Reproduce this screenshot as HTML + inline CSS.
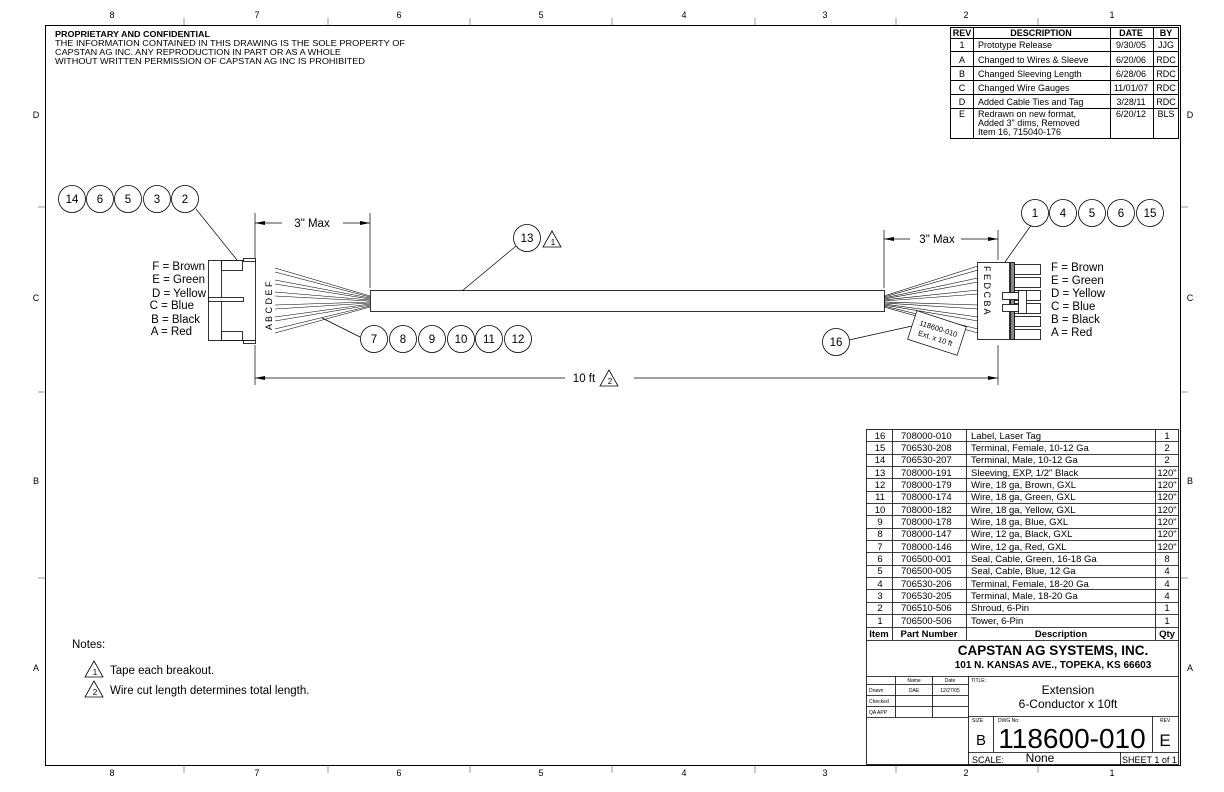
<!DOCTYPE html>
<html><head><meta charset="utf-8"><style>
html,body{margin:0;padding:0;background:#fff;}
svg{display:block;font-family:"Liberation Sans",sans-serif;}
text{fill:#000;}
</style></head><body>
<svg width="1224" height="792" viewBox="0 0 1224 792" xmlns="http://www.w3.org/2000/svg">
<rect width="1224" height="792" fill="#fff"/>
<g stroke="#000" fill="none" stroke-width="1">
<rect x="45.5" y="25.5" width="1135" height="740"/>
</g>
<g stroke="#999" stroke-width="1">
<line x1="184" y1="18" x2="184" y2="25"/><line x1="328" y1="18" x2="328" y2="25"/><line x1="470" y1="18" x2="470" y2="25"/><line x1="612" y1="18" x2="612" y2="25"/><line x1="755" y1="18" x2="755" y2="25"/><line x1="896" y1="18" x2="896" y2="25"/><line x1="1038" y1="18" x2="1038" y2="25"/>
<line x1="184" y1="766" x2="184" y2="773"/><line x1="328" y1="766" x2="328" y2="773"/><line x1="470" y1="766" x2="470" y2="773"/><line x1="612" y1="766" x2="612" y2="773"/><line x1="755" y1="766" x2="755" y2="773"/><line x1="896" y1="766" x2="896" y2="773"/><line x1="1038" y1="766" x2="1038" y2="773"/>
<line x1="38" y1="207" x2="45" y2="207"/><line x1="38" y1="392" x2="45" y2="392"/><line x1="38" y1="578" x2="45" y2="578"/>
<line x1="1181" y1="207" x2="1188" y2="207"/><line x1="1181" y1="392" x2="1188" y2="392"/><line x1="1181" y1="578" x2="1188" y2="578"/>
</g>
<g font-size="9" text-anchor="middle">
<text x="112" y="18">8</text><text x="257" y="18">7</text><text x="399" y="18">6</text><text x="541" y="18">5</text><text x="684" y="18">4</text><text x="825" y="18">3</text><text x="966" y="18">2</text><text x="1112" y="18">1</text>
<text x="112" y="776">8</text><text x="257" y="776">7</text><text x="399" y="776">6</text><text x="541" y="776">5</text><text x="684" y="776">4</text><text x="825" y="776">3</text><text x="966" y="776">2</text><text x="1112" y="776">1</text>
<text x="36" y="118">D</text><text x="36" y="301">C</text><text x="36" y="484">B</text><text x="36" y="671">A</text>
<text x="1190" y="118">D</text><text x="1190" y="301">C</text><text x="1190" y="484">B</text><text x="1190" y="671">A</text>
</g>
<g font-size="8">
<text x="55" y="37" font-weight="bold" textLength="155" lengthAdjust="spacingAndGlyphs">PROPRIETARY AND CONFIDENTIAL</text>
<text x="55" y="46" textLength="350" lengthAdjust="spacingAndGlyphs">THE INFORMATION CONTAINED IN THIS DRAWING IS THE SOLE PROPERTY OF</text>
<text x="55" y="55" textLength="286" lengthAdjust="spacingAndGlyphs">CAPSTAN AG INC. ANY REPRODUCTION IN PART OR AS A WHOLE</text>
<text x="55" y="64" textLength="310" lengthAdjust="spacingAndGlyphs">WITHOUT WRITTEN PERMISSION OF CAPSTAN AG INC IS PROHIBITED</text>
</g>
<!-- Rev table -->
<g stroke="#000" fill="none" stroke-width="1">
<rect x="950.5" y="27.5" width="228" height="111"/>
<line x1="973.5" y1="27" x2="973.5" y2="139"/><line x1="1110.5" y1="27" x2="1110.5" y2="139"/><line x1="1153.5" y1="27" x2="1153.5" y2="139"/>
<line x1="950" y1="38.5" x2="1179" y2="38.5"/><line x1="950" y1="51.5" x2="1179" y2="51.5"/><line x1="950" y1="66.5" x2="1179" y2="66.5"/><line x1="950" y1="80.5" x2="1179" y2="80.5"/><line x1="950" y1="94.5" x2="1179" y2="94.5"/><line x1="950" y1="108.5" x2="1179" y2="108.5"/>
</g>
<g font-size="9">
<g font-weight="bold" text-anchor="middle"><text x="962" y="36">REV</text><text x="1041" y="36">DESCRIPTION</text><text x="1131" y="36">DATE</text><text x="1166" y="36">BY</text></g>
<g text-anchor="middle"><text x="962" y="48">1</text><text x="962" y="63">A</text><text x="962" y="77">B</text><text x="962" y="91">C</text><text x="962" y="105">D</text><text x="962" y="117">E</text></g>
<text x="978" y="48">Prototype Release</text><text x="978" y="63">Changed to Wires &amp; Sleeve</text><text x="978" y="77">Changed Sleeving Length</text><text x="978" y="91">Changed Wire Gauges</text><text x="978" y="105">Added Cable Ties and Tag</text>
<text x="978" y="117">Redrawn on new format,</text><text x="978" y="126">Added 3" dims, Removed</text><text x="978" y="135">Item 16, 715040-176</text>
<g text-anchor="middle"><text x="1131" y="48">9/30/05</text><text x="1131" y="63">6/20/06</text><text x="1131" y="77">6/28/06</text><text x="1131" y="91">11/01/07</text><text x="1131" y="105">3/28/11</text><text x="1131" y="117">6/20/12</text>
<text x="1166" y="48">JJG</text><text x="1166" y="63">RDC</text><text x="1166" y="77">RDC</text><text x="1166" y="91">RDC</text><text x="1166" y="105">RDC</text><text x="1166" y="117">BLS</text></g>
</g>
<!-- Left connector -->
<g stroke="#000" fill="#fff" stroke-width="0.8">
<rect x="208.5" y="260.5" width="47" height="80"/>
<line x1="221.5" y1="260" x2="221.5" y2="340"/>
<rect x="221.5" y="260.5" width="21" height="10"/><rect x="221.5" y="331.5" width="21" height="9"/>
<rect x="208.5" y="297.5" width="35" height="4"/>
<rect x="243.5" y="258.5" width="12" height="3"/><rect x="243.5" y="340.5" width="12" height="3"/>
</g>
<g font-size="9" fill="#000"><text transform="translate(272,330) rotate(-90)">A B C D E F</text></g>
<g stroke="#000" stroke-width="0.6" fill="none">
<line x1="275" y1="268" x2="370" y2="296"/><line x1="275" y1="272" x2="370" y2="297"/>
<line x1="275" y1="280" x2="370" y2="298"/><line x1="275" y1="284" x2="370" y2="299"/>
<line x1="275" y1="292" x2="370" y2="300"/><line x1="275" y1="296" x2="370" y2="301"/>
<line x1="275" y1="305" x2="370" y2="302"/><line x1="275" y1="309" x2="370" y2="303"/>
<line x1="275" y1="317" x2="370" y2="304"/><line x1="275" y1="321" x2="370" y2="305"/>
<line x1="275" y1="329" x2="370" y2="306"/><line x1="275" y1="333" x2="370" y2="307"/>
</g>
<g font-size="11.5" text-anchor="end">
<text x="205" y="270">F = Brown</text><text x="205" y="283">E = Green</text><text x="206" y="297">D = Yellow</text><text x="194" y="309">C = Blue</text><text x="200" y="323">B = Black</text><text x="192" y="335">A = Red</text>
</g>
<!-- Sleeve -->
<rect x="370.5" y="290.5" width="514" height="21" fill="#fff" stroke="#000" stroke-width="0.8"/>
<!-- Right connector -->
<g stroke="#000" stroke-width="0.6" fill="none">
<line x1="884" y1="296" x2="978" y2="266"/><line x1="884" y1="297" x2="978" y2="270"/>
<line x1="884" y1="298" x2="978" y2="278"/><line x1="884" y1="299" x2="978" y2="282"/>
<line x1="884" y1="300" x2="978" y2="290"/><line x1="884" y1="301" x2="978" y2="294"/>
<line x1="884" y1="302" x2="978" y2="305"/><line x1="884" y1="303" x2="978" y2="309"/>
<line x1="884" y1="304" x2="978" y2="317"/><line x1="884" y1="305" x2="978" y2="321"/>
<line x1="884" y1="306" x2="978" y2="329"/><line x1="884" y1="307" x2="978" y2="333"/>
</g>
<g stroke="#000" fill="#fff" stroke-width="0.8">
<rect x="977.5" y="262.5" width="32" height="77"/>
<rect x="1010.5" y="262.5" width="4" height="77" fill="#888"/>
<rect x="1014.5" y="264.5" width="26" height="10"/><rect x="1014.5" y="277.5" width="26" height="10"/><rect x="1014.5" y="290.5" width="26" height="10"/><rect x="1014.5" y="303.5" width="26" height="10"/><rect x="1014.5" y="316.5" width="26" height="10"/><rect x="1014.5" y="329.5" width="26" height="10"/>
<rect x="1002.5" y="292.5" width="22" height="7"/><rect x="1002.5" y="304.5" width="22" height="7"/>
<rect x="1018.5" y="290.5" width="8" height="23"/>
</g>
<g font-size="9"><text transform="translate(984,266) rotate(90)">F E D C B A</text></g>
<g font-size="11.5">
<text x="1051" y="271">F = Brown</text><text x="1051" y="284">E = Green</text><text x="1051" y="297">D = Yellow</text><text x="1051" y="310">C = Blue</text><text x="1051" y="323">B = Black</text><text x="1051" y="336">A = Red</text>
</g>
<!-- label tag -->
<g transform="translate(937,333) rotate(18)">
<rect x="-26" y="-15" width="52" height="30" fill="#fff" stroke="#000" stroke-width="0.7"/>
<text x="0" y="-2" font-size="7.5" text-anchor="middle">118600-010</text>
<text x="0" y="8" font-size="7.5" text-anchor="middle">Ext. x 10 ft</text>
</g>
<!-- Dimension lines -->
<g stroke="#000" stroke-width="0.7" fill="none">
<line x1="255" y1="213" x2="255" y2="258"/><line x1="370" y1="213" x2="370" y2="288"/>
<line x1="255" y1="223" x2="282" y2="223"/><line x1="343" y1="223" x2="370" y2="223"/>
<line x1="884" y1="230" x2="884" y2="288"/><line x1="998" y1="230" x2="998" y2="260"/>
<line x1="884" y1="239" x2="910" y2="239"/><line x1="961" y1="239" x2="998" y2="239"/>
<line x1="255" y1="345" x2="255" y2="385"/><line x1="998" y1="345" x2="998" y2="385"/>
<line x1="255" y1="378" x2="565" y2="378"/><line x1="634" y1="378" x2="998" y2="378"/>
<line x1="196" y1="209" x2="237" y2="260"/>
<line x1="360" y1="337" x2="322" y2="318"/>
<line x1="516" y1="246" x2="462" y2="291"/>
<line x1="1032" y1="224" x2="1005" y2="262"/>
<line x1="849" y1="340" x2="912" y2="326"/>
</g>
<g fill="#000">
<polygon points="255,223 265,221 265,225"/><polygon points="370,223 360,221 360,225"/>
<polygon points="884,239 894,237 894,241"/><polygon points="998,239 988,237 988,241"/>
<polygon points="255,378 265,376 265,380"/><polygon points="998,378 988,376 988,380"/>
</g>
<g font-size="11.5" text-anchor="middle">
<text x="312" y="227">3" Max</text><text x="937" y="243">3" Max</text><text x="584" y="382">10 ft</text>
</g>
<g fill="none" stroke="#000" stroke-width="0.8">
<polygon points="543,247 552,231 561,247"/>
<polygon points="600,386 609,370 618,386"/>
<polygon points="85,677 94,661 103,677"/>
<polygon points="85,697 94,681 103,697"/>
</g>
<g font-size="8" text-anchor="middle"><text x="553" y="245">1</text><text x="610" y="384">2</text><text x="95" y="675">1</text><text x="95" y="695">2</text></g>
<g fill="#fff" stroke="#000" stroke-width="0.8">
<circle cx="72" cy="199" r="13.5"/><circle cx="100" cy="199" r="13.5"/><circle cx="128" cy="199" r="13.5"/><circle cx="157" cy="199" r="13.5"/><circle cx="185" cy="199" r="13.5"/>
<circle cx="1035" cy="213" r="13.5"/><circle cx="1063" cy="213" r="13.5"/><circle cx="1092" cy="213" r="13.5"/><circle cx="1121" cy="213" r="13.5"/><circle cx="1150" cy="213" r="13.5"/>
<circle cx="374" cy="339" r="13.5"/><circle cx="403" cy="339" r="13.5"/><circle cx="432" cy="339" r="13.5"/><circle cx="461" cy="339" r="13.5"/><circle cx="489" cy="339" r="13.5"/><circle cx="518" cy="339" r="13.5"/>
<circle cx="527" cy="238" r="13.5"/><circle cx="836" cy="342" r="13.5"/>
</g>
<g font-size="11.5" text-anchor="middle">
<text x="72" y="203">14</text><text x="100" y="203">6</text><text x="128" y="203">5</text><text x="157" y="203">3</text><text x="185" y="203">2</text>
<text x="1035" y="217">1</text><text x="1063" y="217">4</text><text x="1092" y="217">5</text><text x="1121" y="217">6</text><text x="1150" y="217">15</text>
<text x="374" y="343">7</text><text x="403" y="343">8</text><text x="432" y="343">9</text><text x="461" y="343">10</text><text x="489" y="343">11</text><text x="518" y="343">12</text>
<text x="527" y="242">13</text><text x="836" y="346">16</text>
</g>
<g font-size="11.5">
<text x="72" y="648">Notes:</text>
<text x="110" y="674">Tape each breakout.</text>
<text x="110" y="694">Wire cut length determines total length.</text>
</g>
<g stroke="#000" stroke-width="0.8" fill="none">
<rect x="866.5" y="429.5" width="312" height="335"/>
<line x1="892.5" y1="429" x2="892.5" y2="640"/><line x1="966.5" y1="429" x2="966.5" y2="640"/><line x1="1155.5" y1="429" x2="1155.5" y2="640"/>
<line x1="866" y1="441.5" x2="1179" y2="441.5"/><line x1="866" y1="454.5" x2="1179" y2="454.5"/><line x1="866" y1="466.5" x2="1179" y2="466.5"/><line x1="866" y1="478.5" x2="1179" y2="478.5"/><line x1="866" y1="491.5" x2="1179" y2="491.5"/><line x1="866" y1="503.5" x2="1179" y2="503.5"/><line x1="866" y1="515.5" x2="1179" y2="515.5"/><line x1="866" y1="528.5" x2="1179" y2="528.5"/><line x1="866" y1="540.5" x2="1179" y2="540.5"/><line x1="866" y1="552.5" x2="1179" y2="552.5"/><line x1="866" y1="565.5" x2="1179" y2="565.5"/><line x1="866" y1="577.5" x2="1179" y2="577.5"/><line x1="866" y1="589.5" x2="1179" y2="589.5"/><line x1="866" y1="602.5" x2="1179" y2="602.5"/><line x1="866" y1="614.5" x2="1179" y2="614.5"/><line x1="866" y1="627.5" x2="1179" y2="627.5"/><line x1="866" y1="640.5" x2="1179" y2="640.5"/>
<line x1="866" y1="676.5" x2="1179" y2="676.5"/>
<line x1="968.5" y1="676" x2="968.5" y2="765"/>
<line x1="866" y1="684.5" x2="968" y2="684.5"/><line x1="866" y1="695.5" x2="968" y2="695.5"/><line x1="866" y1="706.5" x2="968" y2="706.5"/><line x1="866" y1="717.5" x2="968" y2="717.5"/>
<line x1="895.5" y1="676" x2="895.5" y2="717"/><line x1="932.5" y1="676" x2="932.5" y2="717"/>
<line x1="968" y1="716.5" x2="1179" y2="716.5"/><line x1="968" y1="752.5" x2="1179" y2="752.5"/>
<line x1="993.5" y1="716" x2="993.5" y2="752"/><line x1="1152.5" y1="716" x2="1152.5" y2="752"/><line x1="1120.5" y1="752" x2="1120.5" y2="765"/>
</g>
<g font-size="9.5">
<g text-anchor="middle">
<text x="880" y="439">16</text><text x="880" y="451">15</text><text x="880" y="463">14</text><text x="880" y="476">13</text><text x="880" y="488">12</text><text x="880" y="500">11</text><text x="880" y="513">10</text><text x="880" y="525">9</text><text x="880" y="537">8</text><text x="880" y="550">7</text><text x="880" y="562">6</text><text x="880" y="574">5</text><text x="880" y="587">4</text><text x="880" y="599">3</text><text x="880" y="611">2</text><text x="880" y="624">1</text>
<text x="1167" y="439">1</text><text x="1167" y="451">2</text><text x="1167" y="463">2</text><text x="1167" y="476">120"</text><text x="1167" y="488">120"</text><text x="1167" y="500">120"</text><text x="1167" y="513">120"</text><text x="1167" y="525">120"</text><text x="1167" y="537">120"</text><text x="1167" y="550">120"</text><text x="1167" y="562">8</text><text x="1167" y="574">4</text><text x="1167" y="587">4</text><text x="1167" y="599">4</text><text x="1167" y="611">1</text><text x="1167" y="624">1</text>
</g>
<g>
<text x="901" y="439">708000-010</text><text x="901" y="451">706530-208</text><text x="901" y="463">706530-207</text><text x="901" y="476">708000-191</text><text x="901" y="488">708000-179</text><text x="901" y="500">708000-174</text><text x="901" y="513">708000-182</text><text x="901" y="525">708000-178</text><text x="901" y="537">708000-147</text><text x="901" y="550">708000-146</text><text x="901" y="562">706500-001</text><text x="901" y="574">706500-005</text><text x="901" y="587">706530-206</text><text x="901" y="599">706530-205</text><text x="901" y="611">706510-506</text><text x="901" y="624">706500-506</text>
<text x="971" y="439">Label, Laser Tag</text><text x="971" y="451">Terminal, Female, 10-12 Ga</text><text x="971" y="463">Terminal, Male, 10-12 Ga</text><text x="971" y="476">Sleeving, EXP, 1/2" Black</text><text x="971" y="488">Wire, 18 ga, Brown, GXL</text><text x="971" y="500">Wire, 18 ga, Green, GXL</text><text x="971" y="513">Wire, 18 ga, Yellow, GXL</text><text x="971" y="525">Wire, 18 ga, Blue, GXL</text><text x="971" y="537">Wire, 12 ga, Black, GXL</text><text x="971" y="550">Wire, 12 ga, Red, GXL</text><text x="971" y="562">Seal, Cable, Green, 16-18 Ga</text><text x="971" y="574">Seal, Cable, Blue, 12 Ga</text><text x="971" y="587">Terminal, Female, 18-20 Ga</text><text x="971" y="599">Terminal, Male, 18-20 Ga</text><text x="971" y="611">Shroud, 6-Pin</text><text x="971" y="624">Tower, 6-Pin</text>
</g>
<g font-weight="bold" text-anchor="middle"><text x="879" y="637">Item</text><text x="929" y="637">Part Number</text><text x="1061" y="637">Description</text><text x="1167" y="637">Qty</text></g>
</g>
<g text-anchor="middle" font-weight="bold">
<text x="1053" y="655" font-size="13.5">CAPSTAN AG SYSTEMS, INC.</text>
<text x="1053" y="668" font-size="10">101 N. KANSAS AVE., TOPEKA, KS 66603</text>
</g>
<g font-size="5" text-anchor="middle"><text x="914" y="682">Name</text><text x="950" y="682">Date</text><text x="914" y="692">DAE</text><text x="950" y="692">12/27/05</text></g>
<g font-size="5"><text x="869" y="692">Drawn</text><text x="869" y="703">Checked</text><text x="869" y="714">QA APP</text><text x="971" y="682">TITLE:</text><text x="972" y="722">SIZE</text><text x="998" y="722">DWG No:</text><text x="1160" y="722">REV</text></g>
<g text-anchor="middle">
<text x="1068" y="694" font-size="12">Extension</text>
<text x="1068" y="708" font-size="12">6-Conductor x 10ft</text>
<text x="981" y="745" font-size="15">B</text>
<text x="1072" y="748" font-size="28">118600-010</text>
<text x="1165" y="746" font-size="17">E</text>
<text x="1040" y="762" font-size="12">None</text>
</g>
<g font-size="9"><text x="972" y="763">SCALE:</text><text x="1122" y="763">SHEET 1 of 1</text></g>
</svg>
</body></html>
